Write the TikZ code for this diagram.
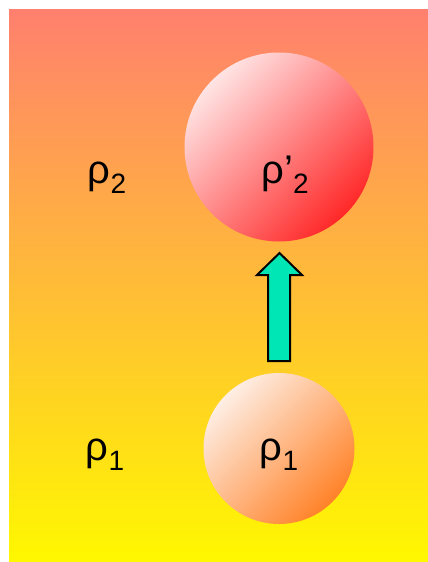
\documentclass[tikz,border=0pt]{standalone}
\usepackage{fontspec}
\setmainfont{Liberation Sans}
\usepackage{tikz}

\newcommand{\lowsub}[1]{\raisebox{-5pt}{\fontsize{14}{14}\selectfont #1}}

\begin{document}
\begin{tikzpicture}[
    x=0.5pt, y=-0.5pt,
    rho/.style={anchor=base, inner sep=0pt, font=\fontsize{20}{24}\selectfont},
    ball/.style={circle, inner sep=0pt, shading=axis}
  ]
  \useasboundingbox (0,0) rectangle (428,562);
  % Background
  \shade[top color={rgb,255:red,255;green,128;blue,110},
         middle color={rgb,255:red,255;green,188;blue,62},
         bottom color={rgb,255:red,255;green,248;blue,0}]
    (9,9) rectangle (428,562);

  % Balls
  \node[ball, minimum size=94.5pt,
        top color={rgb,255:red,255;green,228;blue,228},
        middle color={rgb,255:red,255;green,165;blue,165},
        bottom color={rgb,255:red,255;green,40;blue,40},
        shading angle=45] (ball2) at (279,147) {};
  \node[ball, minimum size=75.5pt,
        top color={rgb,255:red,254;green,238;blue,228},
        middle color={rgb,255:red,255;green,202;blue,165},
        bottom color={rgb,255:red,255;green,130;blue,40},
        shading angle=45] (ball1) at (279,448.5) {};

  % Lift arrow
  \draw[line width=1pt, fill={rgb,255:red,0;green,230;blue,180}, line join=miter]
    (279.5,253) -- (302,275) -- (290,275) -- (290,361) -- (268,361)
    -- (268,275) -- (257,275) -- cycle;

  % Densities
  \node[rho] (out2) at (107,183) {ρ\lowsub{2}};
  \node[rho] (out1) at (105,460) {ρ\lowsub{1}};
  \node[rho] (in2)  at (285,183) {ρ’\lowsub{2}};
  \node[rho] (in1)  at (279,460) {ρ\lowsub{1}};
\end{tikzpicture}
\end{document}
